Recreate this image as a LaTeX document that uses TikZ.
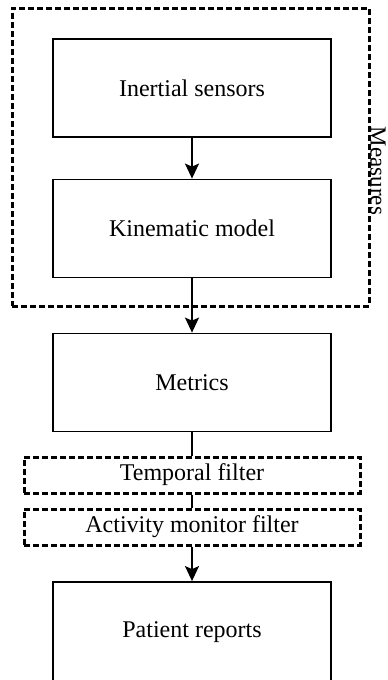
\documentclass[tikz,border=0pt]{standalone}
\usepackage{fontspec}
\setmainfont{Liberation Serif}
\usetikzlibrary{arrows.meta}

\tikzset{
  block/.style={draw, line width=1.8pt, minimum width=278pt, minimum height=98pt, inner sep=0pt, font=\fontsize{24}{28}\selectfont},
  filterbox/.style={draw, dash pattern=on 6pt off 3pt, line width=3pt, minimum width=336pt, minimum height=36pt, inner sep=0pt, font=\fontsize{24}{28}\selectfont},
  flow/.style={line width=1.8pt, -{Stealth[length=15pt,width=14pt,inset=3pt]}},
  link/.style={line width=1.8pt}
}

\begin{document}
\begin{tikzpicture}[x=1pt,y=-1pt]
        \useasboundingbox (0,0) rectangle (388,680);

        \node[draw, dash pattern=on 6pt off 3pt, line width=3pt, minimum width=357pt, minimum height=298pt, inner sep=0pt] (box) at (190.5,157) {};
        \node[rotate=-90, inner sep=0pt, font=\fontsize{23}{27}\selectfont] (lbl) at (378,171) {Measures};

        \node[block] (sensors) at (192,88) {Inertial sensors};
        \node[block] (kinematic) at (192,228.5) {Kinematic model};
        \node[block] (metrics) at (192,382.5) {Metrics};

        \node[filterbox] (temporal) at (192,475) {Temporal filter};
        \node[filterbox] (activity) at (192,527) {Activity monitor filter};

        \node[block, minimum height=100pt] (reports) at (192,632) {Patient reports};

        \draw[flow] (sensors) -- (kinematic);
        \draw[flow] (kinematic) -- (metrics);
        \draw[link] (metrics) -- (temporal);
        \draw[link] (temporal) -- (activity);
        \draw[flow] (activity) -- (reports);
    \end{tikzpicture}
\end{document}
